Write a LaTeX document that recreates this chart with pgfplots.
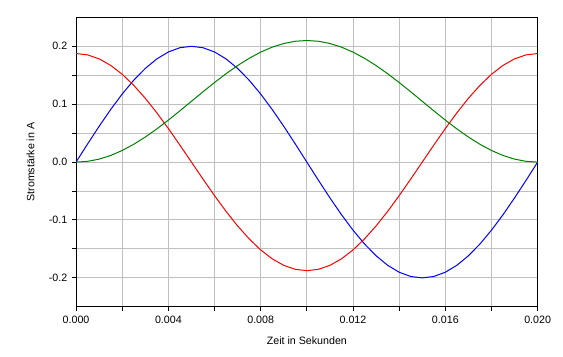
\documentclass[border=0pt]{standalone}
\usepackage{pgfplots}
\pgfplotsset{compat=1.18}
\usepackage{pgfplotstable}
\usepackage{fontspec}
\setmainfont{Liberation Sans}
\pgfplotstableread{
t blue red green
0.0000 0 0.18750 0
0.0005 0.03129 0.18519 0.00129
0.0010 0.06180 0.17832 0.00514
0.0015 0.09080 0.16706 0.01144
0.0020 0.11756 0.15169 0.02005
0.0025 0.14142 0.13258 0.03075
0.0030 0.16180 0.11021 0.04328
0.0035 0.17820 0.08512 0.05733
0.0040 0.19021 0.05794 0.07255
0.0045 0.19754 0.02933 0.08857
0.0050 0.20000 0 0.10500
0.0055 0.19754 -0.02933 0.12143
0.0060 0.19021 -0.05794 0.13745
0.0065 0.17820 -0.08512 0.15267
0.0070 0.16180 -0.11021 0.16672
0.0075 0.14142 -0.13258 0.17925
0.0080 0.11756 -0.15169 0.18995
0.0085 0.09080 -0.16706 0.19856
0.0090 0.06180 -0.17832 0.20486
0.0095 0.03129 -0.18519 0.20871
0.0100 0 -0.18750 0.21000
0.0105 -0.03129 -0.18519 0.20871
0.0110 -0.06180 -0.17832 0.20486
0.0115 -0.09080 -0.16706 0.19856
0.0120 -0.11756 -0.15169 0.18995
0.0125 -0.14142 -0.13258 0.17925
0.0130 -0.16180 -0.11021 0.16672
0.0135 -0.17820 -0.08512 0.15267
0.0140 -0.19021 -0.05794 0.13745
0.0145 -0.19754 -0.02933 0.12143
0.0150 -0.20000 0 0.10500
0.0155 -0.19754 0.02933 0.08857
0.0160 -0.19021 0.05794 0.07255
0.0165 -0.17820 0.08512 0.05733
0.0170 -0.16180 0.11021 0.04328
0.0175 -0.14142 0.13258 0.03075
0.0180 -0.11756 0.15169 0.02005
0.0185 -0.09080 0.16706 0.01144
0.0190 -0.06180 0.17832 0.00514
0.0195 -0.03129 0.18519 0.00129
0.0200 0 0.18750 0
}\data
\definecolor{gridgray}{RGB}{192,192,192}
\definecolor{dgreen}{RGB}{0,128,0}
\begin{document}
\begin{tikzpicture}
\begin{axis}[
  width=346pt, height=217pt, scale only axis,
  xmin=0, xmax=0.02, ymin=-0.25, ymax=0.25,
  xtick={0,0.004,0.008,0.012,0.016,0.02},
  xticklabels={0.000,0.004,0.008,0.012,0.016,0.020},
  minor xtick={0.002,0.006,0.010,0.014,0.018},
  ytick={-0.2,-0.1,0,0.1,0.2},
  yticklabels={-0.2,-0.1,0.0,0.1,0.2},
  minor ytick={-0.15,-0.05,0.05,0.15},
  scaled ticks=false,
  grid=both,
  major grid style={gridgray, line width=0.75pt},
  minor grid style={gridgray, line width=0.75pt},
  tick pos=left, tick align=outside,
  major tick length=3pt, minor tick length=3pt,
  tick style={black, line width=0.75pt},
  axis line style={black, line width=0.75pt},
  tick label style={font=\fontsize{8}{9.6}\selectfont},
  label style={font=\fontsize{8}{9.6}\selectfont},
  xlabel={Zeit in Sekunden},
  ylabel={Stromstärke in A},
  xlabel style={yshift=-3pt},
  ylabel style={yshift=4pt},
]
\addplot[blue, line width=0.75pt] table[x=t, y=blue] {\data};
\addplot[red, line width=0.75pt] table[x=t, y=red] {\data};
\addplot[dgreen, line width=0.75pt] table[x=t, y=green] {\data};
\end{axis}
\path[use as bounding box] ([xshift=-57pt,yshift=-37.5pt]current axis.south west) rectangle ([xshift=19pt,yshift=13pt]current axis.north east);
\end{tikzpicture}
\end{document}
